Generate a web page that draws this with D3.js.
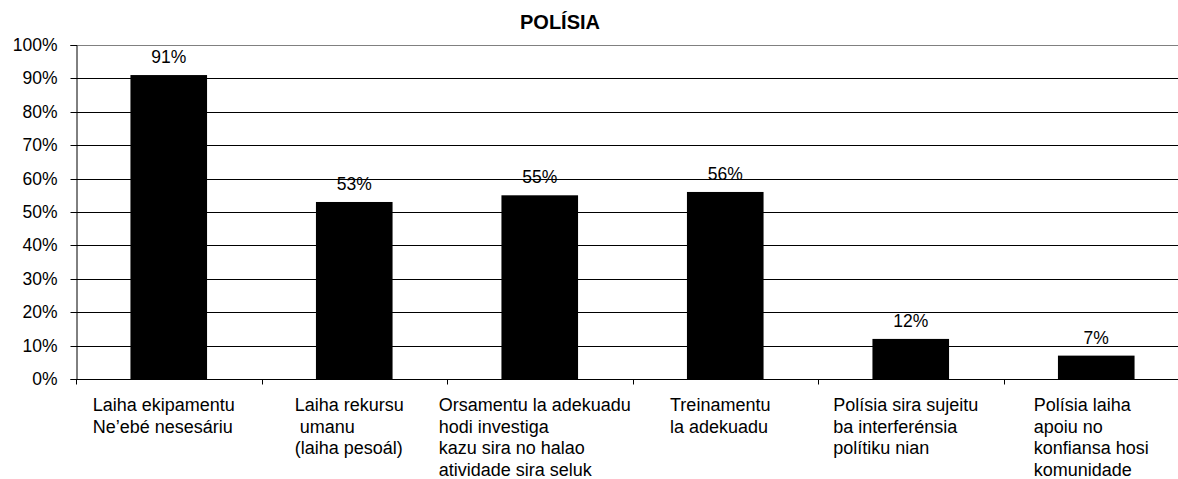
<!DOCTYPE html>
<html>
<head>
<meta charset="utf-8">
<script src="https://cdnjs.cloudflare.com/ajax/libs/d3/7.8.5/d3.min.js"></script>
<style>
    body { margin: 0; background: #fff; }
    svg { display: block; font-family: "Liberation Sans", Arial, sans-serif; }
</style>
</head>
<body>
<div id="chart"></div>
<script>
'use strict';

// chart data
var title = 'POLÍSIA';
var categories = [
    ['Laiha ekipamentu', 'Ne\u2019ebé nesesáriu'],
    ['Laiha rekursu', ' umanu', '(laiha pesoál)'],
    ['Orsamentu la adekuadu', 'hodi investiga', 'kazu sira no halao', 'atividade sira seluk'],
    ['Treinamentu', 'la adekuadu'],
    ['Polísia sira sujeitu', 'ba interferénsia', 'polítiku nian'],
    ['Polísia laiha', 'apoiu no', 'konfiansa hosi', 'komunidade']
];
var values = [0.91, 0.53, 0.55, 0.56, 0.12, 0.07];
var tickValues = [0, 0.1, 0.2, 0.3, 0.4, 0.5, 0.6, 0.7, 0.8, 0.9, 1];

var width = 1178, height = 479;
var margin = {top: 45, left: 76, bottom: 100};
var plotRight = 1189; // plot runs past the right edge of the picture

var svg = d3.select('#chart').append('svg')
    .attr('width', width)
    .attr('height', height);

var x = d3.scaleBand()
    .domain(d3.range(categories.length))
    .range([margin.left, plotRight])
    .paddingInner(0.587)
    .paddingOuter(0.2935);

var y = d3.scaleLinear()
    .domain([0, 1])
    .range([height - margin.bottom, margin.top]);

// gridlines
svg.append('g').selectAll('line')
    .data(tickValues.filter(function (d) { return d > 0; }))
    .enter().append('line')
    .attr('x1', margin.left).attr('x2', plotRight)
    .attr('y1', function (d) { return Math.round(y(d)) + 0.5; })
    .attr('y2', function (d) { return Math.round(y(d)) + 0.5; })
    .attr('stroke', function (d) { return d === 1 ? '#808080' : '#000'; })
    .attr('stroke-width', 1);

// bars
svg.append('g').selectAll('rect')
    .data(values)
    .enter().append('rect')
    .attr('x', function (d, i) { return x(i); })
    .attr('y', function (d) { return y(d); })
    .attr('width', x.bandwidth())
    .attr('height', function (d) { return y(0) - y(d); })
    .attr('fill', '#000');

// value labels
svg.append('g').selectAll('text')
    .data(values)
    .enter().append('text')
    .attr('x', function (d, i) { return x(i) + x.bandwidth() / 2; })
    .attr('y', function (d) { return y(d) - 12; })
    .attr('text-anchor', 'middle')
    .attr('font-size', '17.5px')
    .attr('fill', '#000')
    .text(function (d) { return d3.format('.0%')(d); });

// y axis
var yAxis = d3.axisLeft(y)
    .tickValues(tickValues)
    .tickFormat(d3.format('.0%'))
    .tickSize(6)
    .tickPadding(13);

var gy = svg.append('g')
    .attr('transform', 'translate(' + (margin.left + 0.5) + ',0)')
    .call(yAxis);
gy.select('.domain').attr('stroke', '#000');
gy.selectAll('.tick line').attr('stroke', '#000');
gy.selectAll('.tick text')
    .attr('font-size', '17.5px')
    .attr('font-family', null)
    .attr('fill', '#000');
gy.selectAll('.tick').attr('transform', function (d) {
    return 'translate(0,' + (Math.round(y(d)) + 0.5) + ')';
});

// x axis line and ticks between categories
var bounds = d3.range(categories.length + 1).map(function (i) {
    return margin.left + i * x.step();
});
var baseY = Math.round(y(0)) + 0.5;
svg.append('line')
    .attr('x1', margin.left).attr('x2', plotRight)
    .attr('y1', baseY).attr('y2', baseY)
    .attr('stroke', '#000');
svg.append('g').selectAll('line')
    .data(bounds)
    .enter().append('line')
    .attr('x1', function (d) { return Math.round(d) + 0.5; })
    .attr('x2', function (d) { return Math.round(d) + 0.5; })
    .attr('y1', baseY).attr('y2', baseY + 5)
    .attr('stroke', '#000');

// category labels: left aligned lines, block centred under the bar
var labels = svg.append('g').selectAll('text')
    .data(categories)
    .enter().append('text')
    .attr('font-size', '18px')
    .attr('fill', '#000')
    .attr('xml:space', 'preserve')
    .style('white-space', 'pre');

labels.selectAll('tspan')
    .data(function (d) { return d; })
    .enter().append('tspan')
    .attr('y', function (d, j) { return 411 + j * 21.5; })
    .text(function (d) { return d; });

labels.each(function (d, i) {
    var t = d3.select(this);
    var w = 0;
    t.selectAll('tspan').each(function () {
        w = Math.max(w, this.getComputedTextLength());
    });
    var left = x(i) + x.bandwidth() / 2 - w / 2 - 5;
    t.selectAll('tspan').attr('x', left);
});

// title
svg.append('text')
    .attr('x', 560)
    .attr('y', 29)
    .attr('text-anchor', 'middle')
    .attr('font-size', '20px')
    .attr('font-weight', 'bold')
    .attr('fill', '#000')
    .text(title);
</script>
</body>
</html>
